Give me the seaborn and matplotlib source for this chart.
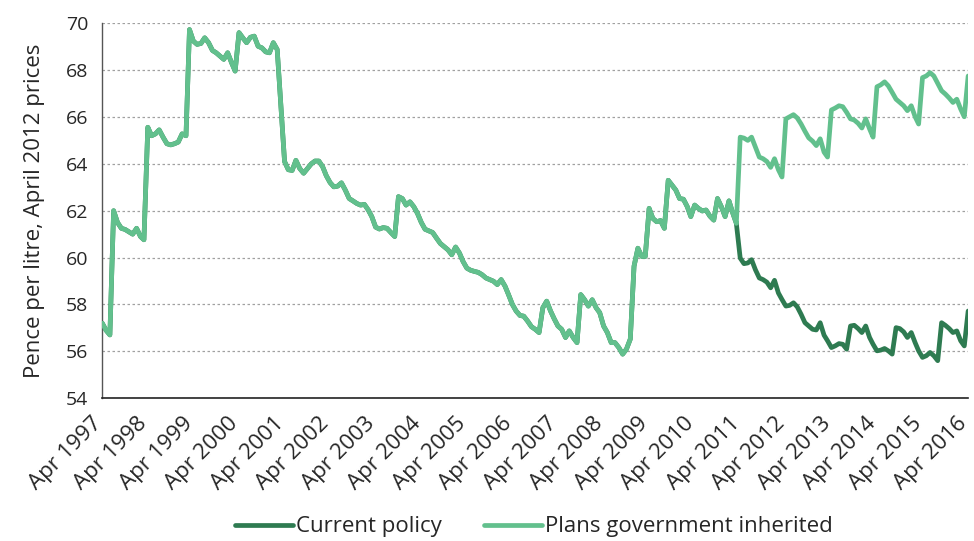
import matplotlib
matplotlib.use("Agg")
import matplotlib.pyplot as plt
import matplotlib.dates as mdates
import pandas as pd
import seaborn as sns

# monthly values, Apr 1997 .. Mar 2011 (shared by both series)
shared = [
    57.2, 56.9, 56.7, 62.0, 61.5, 61.25, 61.2, 61.1, 61.0, 61.25, 60.9, 60.76,
    65.56, 65.2, 65.28, 65.45, 65.14, 64.86, 64.81, 64.86, 64.93, 65.28, 65.2, 69.73,
    69.24, 69.1, 69.14, 69.38, 69.17, 68.84, 68.74, 68.6, 68.46, 68.74, 68.32, 67.96,
    69.6, 69.38, 69.17, 69.4, 69.45, 69.02, 68.95, 68.78, 68.74, 69.17, 68.88, 66.6,
    64.1, 63.75, 63.72, 64.15, 63.8, 63.6, 63.8, 64.0, 64.12, 64.12, 63.87, 63.5,
    63.2, 63.02, 63.05, 63.19, 62.88, 62.52, 62.42, 62.31, 62.24, 62.27, 62.03, 61.75,
    61.3, 61.22, 61.28, 61.25, 61.07, 60.9, 62.6, 62.52, 62.24, 62.38, 62.17, 61.89,
    61.5, 61.21, 61.14, 61.07, 60.83, 60.6, 60.47, 60.33, 60.12, 60.45, 60.19, 59.84,
    59.55, 59.46, 59.41, 59.37, 59.27, 59.13, 59.06, 58.99, 58.85, 59.06, 58.78, 58.42,
    58.0, 57.72, 57.53, 57.5, 57.29, 57.05, 56.94, 56.8, 57.86, 58.14, 57.72, 57.4,
    57.08, 56.94, 56.59, 56.87, 56.59, 56.37, 58.42, 58.2, 57.93, 58.2, 57.86, 57.65,
    57.08, 56.8, 56.37, 56.37, 56.16, 55.88, 56.09, 56.52, 59.63, 60.4, 60.05, 60.05,
    62.1, 61.67, 61.53, 61.58, 61.25, 63.3, 63.09, 62.88, 62.52, 62.49, 62.17, 61.75,
    62.24, 62.1, 61.99, 62.03, 61.77, 61.6, 62.52, 62.17, 61.75, 62.42, 61.89, 61.46,
]

# Apr 2011 .. Apr 2016
current_tail = [
    59.98, 59.74, 59.77, 59.91, 59.48, 59.13, 59.06, 58.95, 58.71, 59.03, 58.49, 58.21,
    57.93, 57.96, 58.07, 57.9, 57.58, 57.22, 57.08, 56.94, 56.91, 57.22, 56.69, 56.45,
    56.16, 56.23, 56.33, 56.3, 56.09, 57.08, 57.11, 56.97, 56.8, 57.08, 56.59, 56.3,
    56.02, 56.05, 56.12, 56.02, 55.88, 57.01, 56.97, 56.83, 56.59, 56.8, 56.37, 56.02,
    55.74, 55.81, 55.95, 55.81, 55.6, 57.22, 57.11, 56.97, 56.8, 56.87, 56.45, 56.23,
    57.72,
]
inherited_tail = [
    65.14, 65.1, 65.0, 65.14, 64.71, 64.29, 64.22, 64.1, 63.85, 64.22, 63.75, 63.44,
    65.92, 66.01, 66.1, 65.96, 65.7, 65.39, 65.11, 64.97, 64.78, 65.07, 64.5, 64.29,
    66.3, 66.38, 66.48, 66.44, 66.2, 65.92, 65.87, 65.73, 65.53, 65.92, 65.49, 65.14,
    67.29, 67.37, 67.5, 67.33, 67.05, 66.76, 66.62, 66.48, 66.27, 66.48, 66.01, 65.7,
    67.68, 67.75, 67.89, 67.75, 67.43, 67.12, 66.98, 66.81, 66.62, 66.76, 66.34, 66.01,
    67.75,
]

series_names = ["Current policy", "Plans government inherited"]
series_colors = ["#2e7b51", "#62c08d"]
y_ticks = [54, 56, 58, 60, 62, 64, 66, 68, 70]

dates = pd.date_range("1997-04-01", periods=len(shared) + len(current_tail), freq="MS")
current = shared + current_tail
inherited = shared + inherited_tail

df = pd.concat([
    pd.DataFrame({"date": dates, "value": current, "series": series_names[0]}),
    pd.DataFrame({"date": dates, "value": inherited, "series": series_names[1]}),
])

sns.set_style("white")
plt.rcParams["font.family"] = ["Open Sans", "DejaVu Sans"]

fig = plt.figure(figsize=(9.74, 5.41), dpi=100)
ax = fig.add_axes([0.105, 0.264, 0.889, 0.693])

# dark line below, light line on top so the shared history shows light
for name, color, z in [(series_names[0], series_colors[0], 2), (series_names[1], series_colors[1], 3)]:
    sns.lineplot(
        data=df[df["series"] == name], x="date", y="value",
        color=color, linewidth=3.4, ax=ax, label=name, zorder=z,
        solid_capstyle="round", solid_joinstyle="round",
    )

ax.set_xlim(dates[0], dates[-1])
ax.set_ylim(54, 70)
ax.set_yticks(y_ticks)
ax.yaxis.grid(True, linestyle=(0, (2, 2)), color="#a0a0a0", linewidth=0.9)
ax.set_axisbelow(True)

ax.xaxis.set_major_locator(mdates.MonthLocator(bymonth=4))
ax.xaxis.set_major_formatter(mdates.DateFormatter("%b %Y"))
ax.tick_params(axis="x", direction="out", length=6, width=1, color="#555555",
               labelsize=16, pad=13)
ax.tick_params(axis="y", direction="out", length=5, width=1, color="#555555",
               labelsize=14, pad=5)
plt.setp(ax.get_xticklabels(), rotation=45, ha="right", va="baseline",
         rotation_mode="anchor")

for side in ["top", "right"]:
    ax.spines[side].set_visible(False)
ax.spines["left"].set_color("#555555")
ax.spines["bottom"].set_color("#222222")
ax.spines["left"].set_linewidth(1)
ax.spines["bottom"].set_linewidth(1.2)

ax.set_xlabel("")
ax.set_ylabel("Pence per litre, April 2012 prices", fontsize=16, labelpad=15)

handles, labels = ax.get_legend_handles_labels()
ax.get_legend().remove()
fig.legend(handles, labels, loc="center", bbox_to_anchor=(0.548, 0.026), ncol=2,
           frameon=False, fontsize=16, handlelength=2.6, handletextpad=0.15,
           columnspacing=1.9, borderaxespad=0)

fig.savefig("out.png", dpi=100)
